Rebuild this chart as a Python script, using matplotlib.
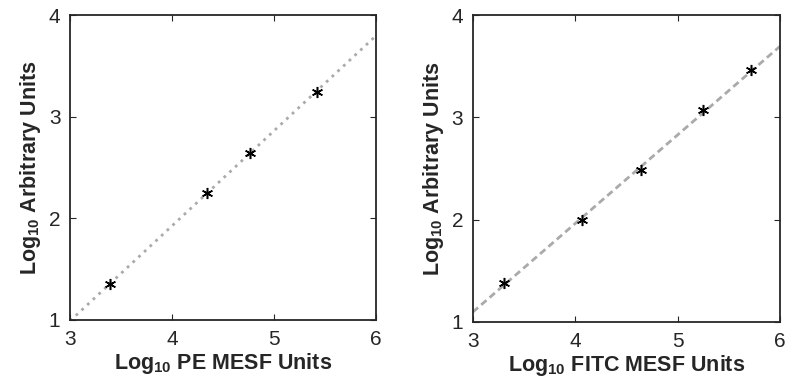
import numpy as np
import matplotlib
matplotlib.use('Agg')
from matplotlib import pyplot as plt

plt.rcParams['font.family'] = ['Liberation Sans', 'DejaVu Sans']
plt.rcParams['mathtext.fontset'] = 'custom'
plt.rcParams['mathtext.rm'] = 'Liberation Sans:bold'
plt.rcParams['mathtext.bf'] = 'Liberation Sans:bold'

# data
pe_x = [3.39, 4.34, 4.76, 5.42]
pe_y = [1.35, 2.25, 2.645, 3.245]
fitc_x = [3.30, 4.07, 4.64, 5.25, 5.72]
fitc_y = [1.385, 1.995, 2.485, 3.07, 3.46]
xlabels = ['Log$_{10}$ PE MESF Units', 'Log$_{10}$ FITC MESF Units']
ylabel = 'Log$_{10}$ Arbitrary Units'
line_styles = [(0, (1, 1.8)), (0, (2.5, 1.5))]

fig = plt.figure(figsize=(7.88, 3.86), dpi=100)
ax1 = fig.add_axes([0.089, 0.171, 0.388, 0.790])
ax2 = fig.add_axes([0.600, 0.166, 0.390, 0.795])

asterisk = (6, 2, 0)
for ax, xs, ys, xl, ls in zip([ax1, ax2], [pe_x, fitc_x], [pe_y, fitc_y], xlabels, line_styles):
    # least squares fit drawn over the whole x range
    m, b = np.polyfit(xs, ys, 1)
    xx = np.array([3.0, 6.0])
    ax.plot(xx, m * xx + b, color='#aaaaaa', lw=2.0, linestyle=ls, zorder=1)
    ax.plot(xs, ys, linestyle='none', marker=asterisk, color='black',
            markersize=8, markeredgewidth=1.1, zorder=2)
    ax.set_xlim(3, 6)
    ax.set_ylim(1, 4)
    ax.set_xticks([3, 4, 5, 6])
    ax.set_yticks([1, 2, 3, 4])
    ax.tick_params(direction='in', top=True, right=True, length=4, width=0.8,
                   labelsize=15, colors='#262626', pad=7)
    for s in ax.spines.values():
        s.set_linewidth(1.3)
        s.set_color('#262626')
    ax.set_xlabel(xl, fontsize=15.5, fontweight='bold', color='#262626', labelpad=2)
    ax.set_ylabel(ylabel, fontsize=15.5, fontweight='bold', color='#262626', labelpad=4)

fig.savefig('out.png', dpi=100)
